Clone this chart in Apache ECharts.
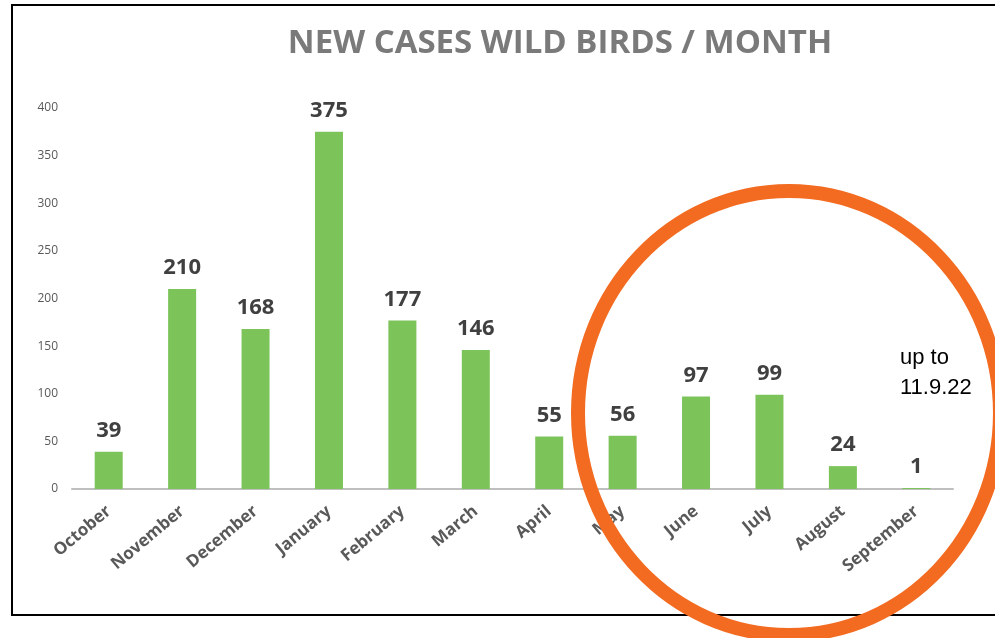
<!DOCTYPE html>
<html>
<head>
<meta charset="utf-8">
<script src="https://cdn.jsdelivr.net/npm/echarts@6/dist/echarts.min.js"></script>
<style>
  html, body { margin: 0; padding: 0; background: #fff; }
  #chart { width: 995px; height: 638px; }
</style>
</head>
<body>
<div id="chart"></div>
<script>
  const months = ['October', 'November', 'December', 'January', 'February', 'March',
    'April', 'May', 'June', 'July', 'August', 'September']
  const newCases = [39, 210, 168, 375, 177, 146, 55, 56, 97, 99, 24, 1]
  const yTicks = [0, 50, 100, 150, 200, 250, 300, 350, 400]

  const chart = echarts.init(document.getElementById('chart'))
  chart.setOption({
    animation: false,
    title: {
      text: 'NEW CASES WILD BIRDS / MONTH',
      left: 555,
      top: 22,
      textAlign: 'center',
      textStyle: {
        fontFamily: 'Open Sans',
        fontSize: 33,
        fontWeight: 'bold',
        color: '#7a7a7a'
      }
    },
    grid: { left: 72, right: 42, top: 108, bottom: 149 },
    xAxis: {
      type: 'category',
      data: months,
      axisTick: { show: false },
      axisLine: { lineStyle: { color: '#bfbfbf', width: 2 } },
      axisLabel: {
        rotate: 40,
        interval: 0,
        margin: 20,
        fontFamily: 'Open Sans',
        fontSize: 17,
        fontWeight: 'bold',
        color: '#595959'
      }
    },
    yAxis: {
      type: 'value',
      min: yTicks[0],
      max: yTicks[yTicks.length - 1],
      interval: 50,
      splitLine: { show: false },
      axisLine: { show: false },
      axisTick: { show: false },
      axisLabel: {
        margin: 14,
        fontFamily: 'Open Sans',
        fontSize: 12,
        color: '#595959'
      }
    },
    series: [{
      type: 'bar',
      data: newCases,
      barWidth: 28,
      itemStyle: { color: '#7cc35a' },
      label: {
        show: true,
        position: 'top',
        distance: 10,
        fontFamily: 'Open Sans',
        fontSize: 22,
        fontWeight: 'bold',
        color: '#404040'
      }
    }],
    graphic: [
      {
        type: 'rect',
        shape: { x: 12, y: 5, width: 1000, height: 610 },
        style: { fill: null, stroke: '#000', lineWidth: 2 },
        silent: true
      },
      {
        type: 'ellipse',
        shape: { cx: 789, cy: 413, rx: 211, ry: 222 },
        style: { fill: null, stroke: '#f26b21', lineWidth: 14 },
        z: 100,
        silent: true
      },
      {
        type: 'text',
        left: 900,
        top: 343,
        style: {
          text: 'up to\n11.9.22',
          font: '22px "Liberation Sans"',
          lineHeight: 30,
          fill: '#000'
        },
        z: 101
      }
    ]
  })
</script>
</body>
</html>
